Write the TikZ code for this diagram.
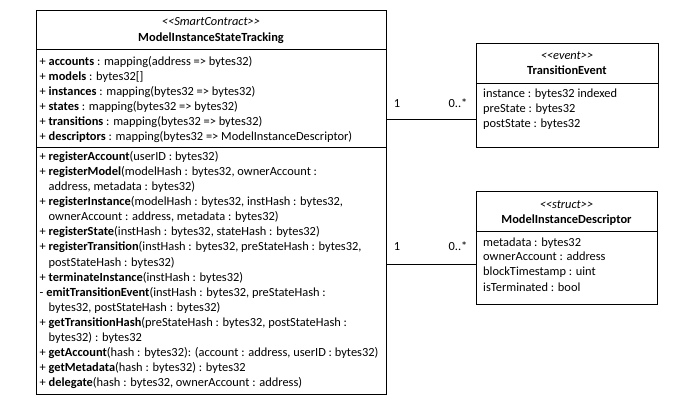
\documentclass[tikz,border=0pt]{standalone}
\usepackage{fontspec}
\newfontfamily\umlfont{Carlito}
\usepackage{tikz}
\usetikzlibrary{calc,positioning}
\tikzset{
  umlbox/.style={rectangle, draw=black, line width=0.9pt, fill=white, anchor=north west, inner sep=0pt},
  sepline/.style={line width=0.9pt},
  assoc/.style={line width=0.9pt},
  ln/.style={anchor=base west, inner sep=0pt},
  hd/.style={anchor=base, inner sep=0pt},
  mult/.style={anchor=base, inner sep=0pt},
}

\begin{document}
\begin{tikzpicture}[x=1pt, y=-1pt, font=\umlfont\fontsize{12.4}{15}\selectfont]
  \useasboundingbox (0,0) rectangle (686,401);
  % class boxes
  \node[umlbox, minimum width=350pt, minimum height=384pt] (msst) at (36,10) {};
  \node[umlbox, minimum width=182pt, minimum height=104pt] (tev) at (476,43) {};
  \node[umlbox, minimum width=181pt, minimum height=113pt] (mid) at (476,191) {};
  \draw[sepline] ($(msst.north west)+(0,39)$) -- ($(msst.north east)+(0,39)$);
  \draw[sepline] ($(msst.north west)+(0,137)$) -- ($(msst.north east)+(0,137)$);
  \draw[sepline] ($(tev.north west)+(0,40)$) -- ($(tev.north east)+(0,40)$);
  \draw[sepline] ($(mid.north west)+(0,40)$) -- ($(mid.north east)+(0,40)$);
  % headers
  \node[hd] (msstst) at (211,26) {\textit{<<SmartContract>>}};
  \node[hd] (msstnm) at (211,42) {\textbf{ModelInstanceStateTracking}};
  \node[hd] (tevst) at (567,60) {\textit{<<event>>}};
  \node[hd] (tevnm) at (567,75) {\textbf{TransitionEvent}};
  \node[hd] (midst) at (566.5,209) {\textit{<<struct>>}};
  \node[hd] (midnm) at (566.5,223.5) {\textbf{ModelInstanceDescriptor}};
  % attributes
  \foreach \t [count=\i] in {
    {+ \textbf{accounts} : mapping(address => bytes32)},
    {+ \textbf{models} : bytes32[]},
    {+ \textbf{instances} : mapping(bytes32 => bytes32)},
    {+ \textbf{states} : mapping(bytes32 => bytes32)},
    {+ \textbf{transitions} : mapping(bytes32 => bytes32)},
    {+ \textbf{descriptors} : mapping(bytes32 => ModelInstanceDescriptor)}}
    \node[ln] (attr\i) at (39.5,{51+15*\i}) {\t};
  % operations
  \foreach \x/\t [count=\i] in {
    39.5/{+ \textbf{registerAccount}(userID : bytes32)},
    39.5/{+ \textbf{registerModel}(modelHash : bytes32, ownerAccount :},
    48.5/{address, metadata : bytes32)},
    39.5/{+ \textbf{registerInstance}(modelHash : bytes32, instHash : bytes32,},
    48.5/{ownerAccount : address, metadata : bytes32)},
    39.5/{+ \textbf{registerState}(instHash : bytes32, stateHash : bytes32)},
    39.5/{+ \textbf{registerTransition}(instHash : bytes32, preStateHash : bytes32,},
    48.5/{postStateHash : bytes32)},
    39.5/{+ \textbf{terminateInstance}(instHash : bytes32)},
    39.5/{- \textbf{emitTransitionEvent}(instHash : bytes32, preStateHash :},
    48.5/{bytes32, postStateHash : bytes32)},
    39.5/{+ \textbf{getTransitionHash}(preStateHash : bytes32, postStateHash :},
    48.5/{bytes32) : bytes32},
    39.5/{+ \textbf{getAccount}(hash : bytes32): (account : address, userID : bytes32)},
    39.5/{+ \textbf{getMetadata}(hash : bytes32) : bytes32},
    39.5/{+ \textbf{delegate}(hash : bytes32, ownerAccount : address)}}
    \node[ln] (op\i) at (\x,{146+15*\i}) {\t};
  \foreach \t [count=\i] in {
    {instance : bytes32 indexed},
    {preState : bytes32},
    {postState : bytes32}}
    \node[ln] (tevat\i) at (483,{83+15*\i}) {\t};
  \foreach \t [count=\i] in {
    {metadata : bytes32},
    {ownerAccount : address},
    {blockTimestamp : uint},
    {isTerminated : bool}}
    \node[ln] (midat\i) at (483,{231+15*\i}) {\t};
  % associations
  \coordinate (t1) at ($(tev.south west)+(0,-28)$);
  \coordinate (d1) at ($(mid.south west)+(0,-40)$);
  \draw[assoc] (msst.east |- t1) -- (t1);
  \draw[assoc] (msst.east |- d1) -- (d1);
  \node[mult] (tevone) at (397,108) {1};
  \node[mult] (tevmany) at (458,108) {0..*};
  \node[mult] (midone) at (397,251) {1};
  \node[mult] (midmany) at (458,251) {0..*};
\end{tikzpicture}
\end{document}
